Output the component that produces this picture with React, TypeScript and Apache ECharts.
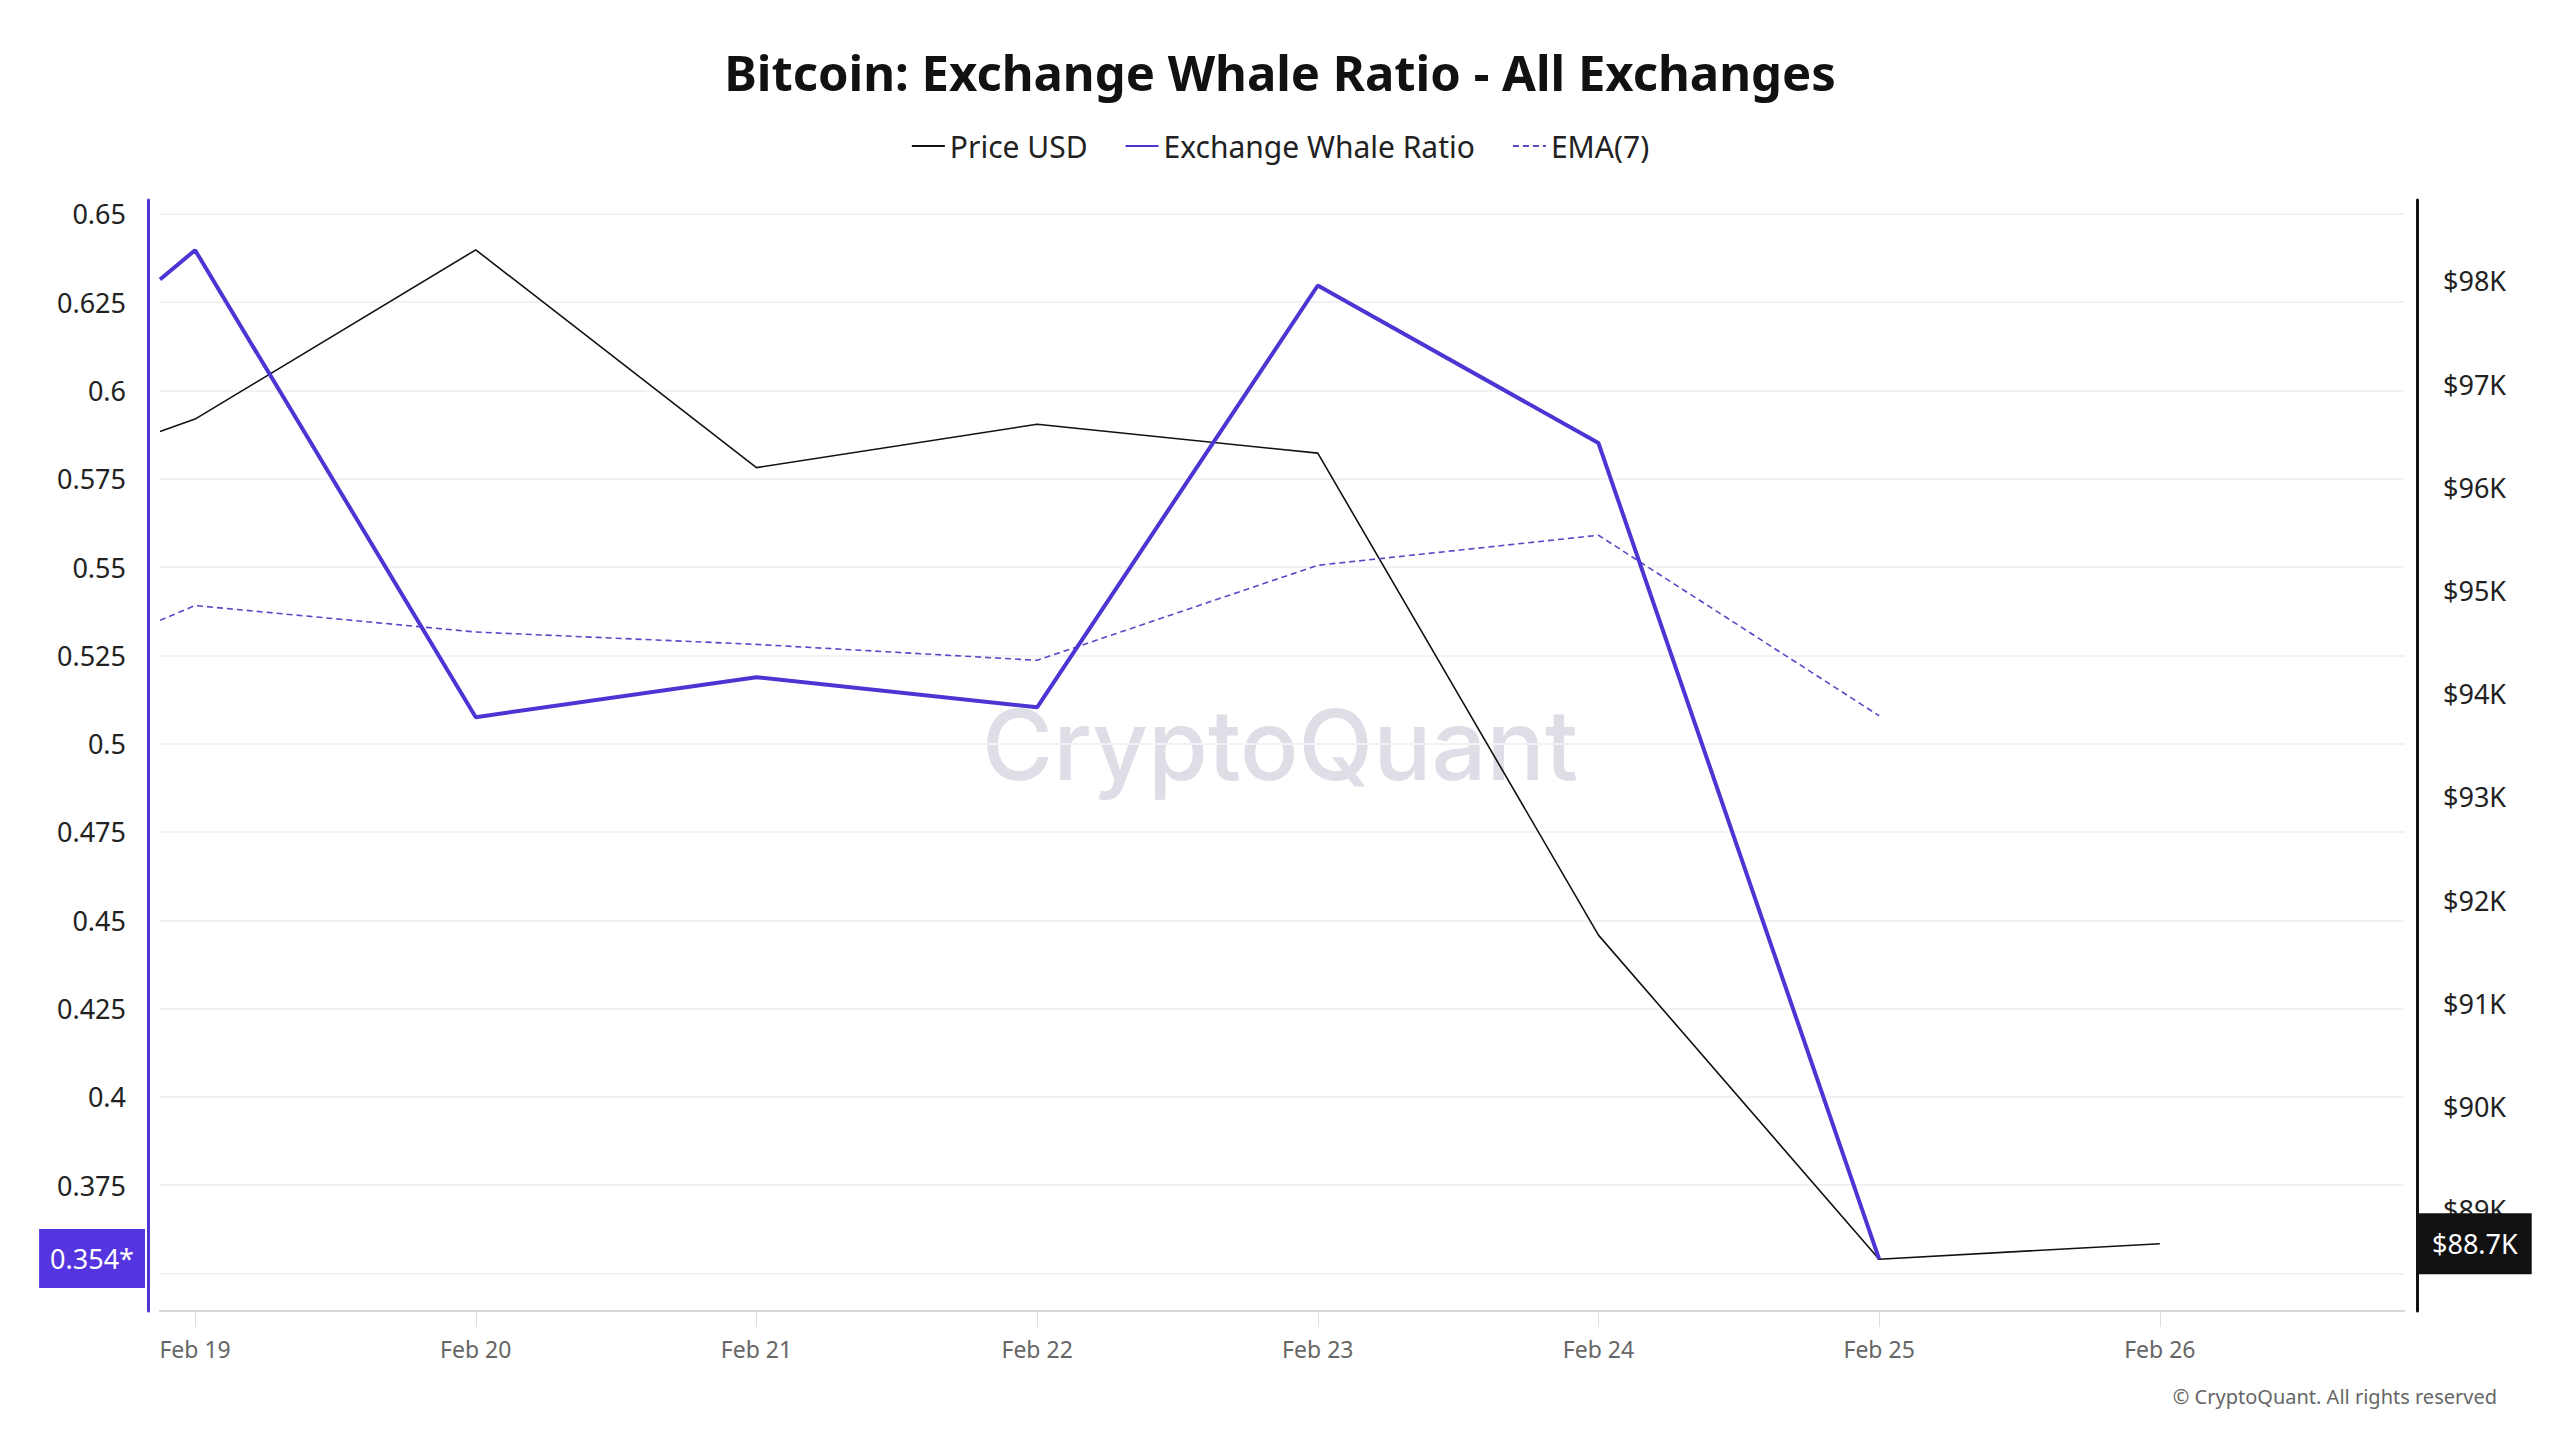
import React, { useEffect, useRef } from 'react';
import * as echarts from 'echarts';

// ---- data ----
const dayOffsets = [-0.125, 0, 1, 2, 3, 4, 5, 6, 7]; // days after Feb 19
const dateLabels = ['Feb 19', 'Feb 20', 'Feb 21', 'Feb 22', 'Feb 23', 'Feb 24', 'Feb 25', 'Feb 26'];
const dayTicks = [0, 1, 2, 3, 4, 5, 6, 7];
const priceUsd = [96540, 96660, 98300, 96190, 96610, 96330, 91660, 88520, 88670];
const whaleRatio = [0.6314, 0.6397, 0.5075, 0.5188, 0.5103, 0.6297, 0.5851, 0.3541, null];
const ema7 = [0.5349, 0.5391, 0.5316, 0.5281, 0.5236, 0.5505, 0.559, 0.5079, null];
const ratioTicks = [0.35, 0.375, 0.4, 0.425, 0.45, 0.475, 0.5, 0.525, 0.55, 0.575, 0.6, 0.625, 0.65];
const priceTicks = [89000, 90000, 91000, 92000, 93000, 94000, 95000, 96000, 97000, 98000];

const PURPLE = '#4b36d3';
const FONT = 'Noto Sans';

function pairs(vals: (number | null)[]) {
  const out: [number, number][] = [];
  vals.forEach((v, i) => {
    if (v !== null) out.push([dayOffsets[i], v]);
  });
  return out;
}

export default function App() {
  const ref = useRef<HTMLDivElement>(null);
  useEffect(() => {
    document.body.style.margin = '0';
    if (!ref.current) return;
    const chart = echarts.init(ref.current, undefined, { renderer: 'svg' });
    const lastWhale = whaleRatio.filter((v) => v !== null).slice(-1)[0] as number;
    const lastPrice = priceUsd[priceUsd.length - 1];
    chart.setOption({
      animation: false,
      backgroundColor: '#ffffff',
      textStyle: { fontFamily: FONT },
      title: {
        text: 'Bitcoin: Exchange Whale Ratio - All Exchanges',
        left: 'center',
        top: 42,
        textStyle: { fontFamily: FONT, fontSize: 49, fontWeight: 'bold', color: '#111111' },
      },
      legend: {
        top: 126,
        left: 'center',
        itemWidth: 33,
        itemHeight: 14,
        itemGap: 37,
        itemStyle: { opacity: 0 },
        textStyle: { fontFamily: FONT, fontSize: 30, color: '#222222' },
        data: ['Price USD', 'Exchange Whale Ratio', 'EMA(7)'],
      },
      grid: { left: 160, right: 156, top: 200, bottom: 129, outerBoundsMode: 'none' },
      xAxis: {
        type: 'value',
        min: -0.125,
        max: 7.87,
        axisLine: { show: true, onZero: false, lineStyle: { color: '#d8d8d8', width: 2 } },
        axisTick: { show: true, customValues: dayTicks, length: 16, lineStyle: { color: '#dddddd', width: 1 } },
        axisLabel: {
          customValues: dayTicks,
          margin: 26,
          fontSize: 23,
          color: '#666666',
          formatter: (v: number) => dateLabels[Math.round(v)] ?? '',
        },
        splitLine: { show: false },
      },
      yAxis: [
        {
          type: 'value',
          position: 'left',
          min: 0.3394,
          max: 0.6539,
          offset: 12,
          axisLine: { show: true, onZero: false, lineStyle: { color: PURPLE, width: 3 } },
          axisTick: { show: false, customValues: ratioTicks },
          axisLabel: {
            customValues: ratioTicks,
            margin: 22,
            fontSize: 27,
            color: '#222222',
            formatter: (v: number) => String(parseFloat(v.toFixed(3))),
          },
          splitLine: { show: true, lineStyle: { color: '#f2f2f2', width: 2 } },
        },
        {
          type: 'value',
          position: 'right',
          min: 88018,
          max: 98783,
          offset: 13,
          axisLine: { show: true, onZero: false, lineStyle: { color: '#111111', width: 3 } },
          axisTick: { show: false, customValues: priceTicks },
          axisLabel: {
            customValues: priceTicks,
            margin: 26,
            fontSize: 27,
            color: '#222222',
            formatter: (v: number) => '$' + Math.round(v / 1000) + 'K',
          },
          splitLine: { show: false },
        },
      ],
      graphic: [
        {
          type: 'text',
          x: 1280,
          y: 744,
          z: 0,
          silent: true,
          style: {
            text: 'CryptoQuant',
            fontFamily: 'Inter',
            fontSize: 97,
            fontWeight: 500,
            fill: '#dedee6',
            align: 'center',
            verticalAlign: 'middle',
          },
        },
        {
          type: 'text',
          x: 2497,
          y: 1396,
          style: {
            text: '© CryptoQuant. All rights reserved',
            fontFamily: FONT,
            fontSize: 20,
            fill: '#666666',
            align: 'right',
            verticalAlign: 'middle',
          },
        },
      ],
      series: [
        {
          name: 'Price USD',
          type: 'line',
          yAxisIndex: 1,
          symbol: 'none',
          data: pairs(priceUsd),
          lineStyle: { color: '#111111', width: 1.6 },
          itemStyle: { color: '#111111' },
          z: 3,
          markLine: {
            silent: true,
            symbol: ['none', 'none'],
            lineStyle: { color: 'rgba(0,0,0,0)', width: 1 },
            data: [{ yAxis: lastPrice }],
            label: {
              show: true,
              position: 'end',
              distance: 14,
              verticalAlign: 'middle',
              formatter: () => '$' + (lastPrice / 1000).toFixed(1) + 'K',
              backgroundColor: '#111111',
              color: '#ffffff',
              fontFamily: FONT,
              fontSize: 27,
              padding: [17, 14],
            },
          },
        },
        {
          name: 'Exchange Whale Ratio',
          type: 'line',
          yAxisIndex: 0,
          symbol: 'none',
          data: pairs(whaleRatio),
          lineStyle: { color: PURPLE, width: 4 },
          itemStyle: { color: PURPLE },
          z: 4,
          markLine: {
            silent: true,
            symbol: ['none', 'none'],
            lineStyle: { color: 'rgba(0,0,0,0)', width: 1 },
            data: [{ yAxis: lastWhale }],
            label: {
              show: true,
              position: 'start',
              distance: 15,
              verticalAlign: 'middle',
              offset: [0, -15],
              formatter: () => lastWhale.toFixed(3) + '*',
              backgroundColor: '#5535e0',
              color: '#ffffff',
              fontFamily: FONT,
              fontSize: 27,
              padding: [16, 11],
            },
          },
        },
        {
          name: 'EMA(7)',
          type: 'line',
          yAxisIndex: 0,
          symbol: 'none',
          data: pairs(ema7),
          lineStyle: { color: '#5a48c8', width: 1.6, type: [6, 4] },
          itemStyle: { color: '#5a48c8' },
          z: 3,
        },
      ],
    });
    return () => chart.dispose();
  }, []);
  return <div ref={ref} style={{ width: 2560, height: 1440 }} />;
}
